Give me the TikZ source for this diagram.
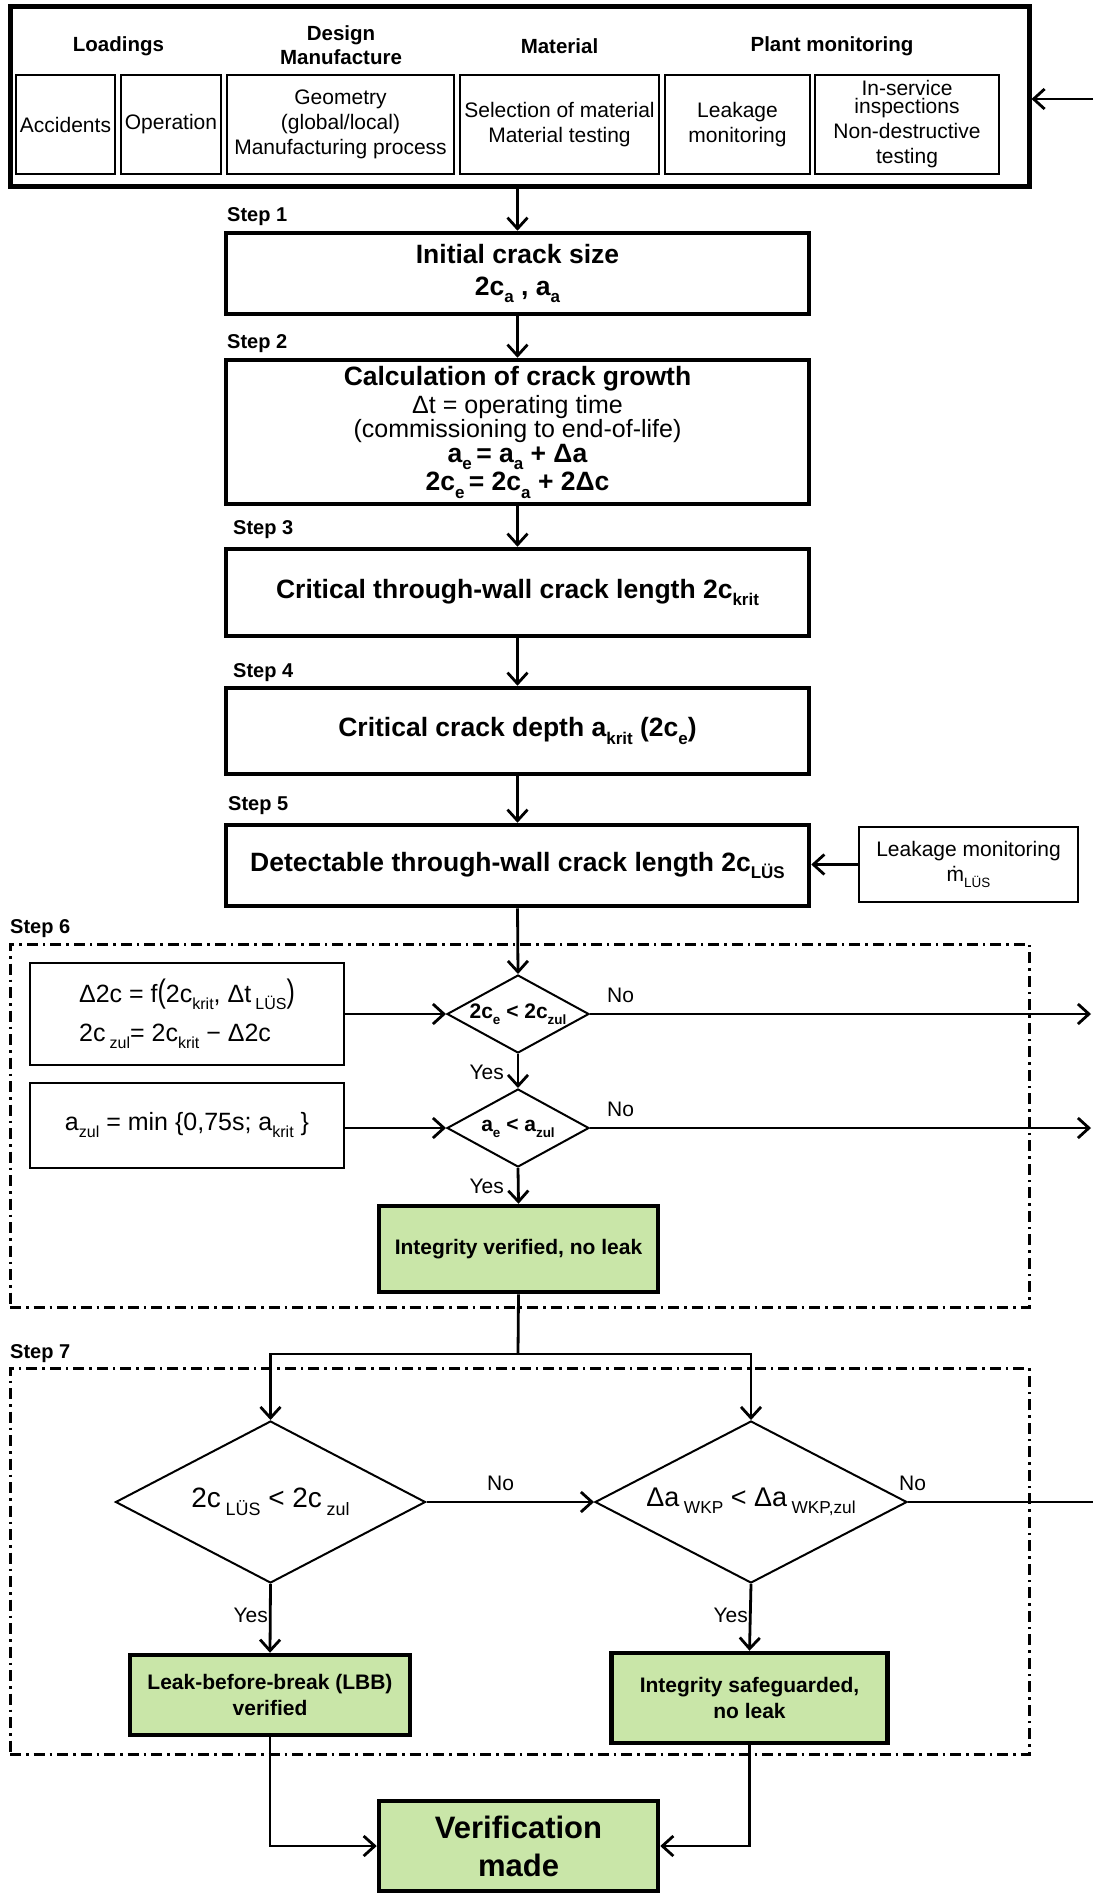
\documentclass[tikz,border=0pt]{standalone}
\usepackage{fontspec}
\setmainfont{Liberation Sans}
\usepackage{graphicx}
\usetikzlibrary{shapes.geometric,arrows.meta}
\definecolor{okgreen}{RGB}{201,230,168}
% lowered, smaller index text
\newcommand\dn[1]{\raisebox{-0.28em}{\scalebox{0.64}{#1}}}
\newcommand\fs[2]{\fontsize{#1}{#2}\selectfont}
% m with a dot above (mass flow)
\newcommand\mdot{\ooalign{m\cr\hidewidth\char"02D9\hidewidth\cr}}
\newcommand\tallparen[1]{\scalebox{1}[1.3]{#1}}

\tikzset{
  stepbox/.style={draw, line width=4.5pt, minimum width=583pt, inner sep=0pt, align=center, font=\bfseries\fs{26.5}{26}},
  inbox/.style={draw, line width=2pt, minimum height=99pt, inner sep=0pt, align=center, font=\fs{21}{25}},
  smallbox/.style={draw, line width=2pt, inner sep=0pt, align=center, font=\fs{21}{25}},
  okbox/.style={draw, line width=4.5pt, fill=okgreen, inner sep=0pt, align=center, font=\bfseries\fs{21}{26}},
  decide/.style={draw, diamond, line width=2pt, inner sep=0pt, aspect=1.75},
  head/.style={inner sep=0pt, align=center, font=\bfseries\fs{20.5}{24}},
  steplabel/.style={anchor=west, inner sep=0pt, font=\bfseries\fs{20}{24}},
  answer/.style={inner sep=0pt, font=\fs{21}{24}},
  flow/.style={line width=2.8pt, -{Straight Barb[length=11pt,width=20pt]}},
  link/.style={line width=2.8pt},
  zone/.style={draw, line width=3pt, dash pattern=on 11pt off 5pt on 2.5pt off 5pt, inner sep=0pt},
}

\begin{document}
\begin{tikzpicture}[x=1pt,y=-1pt]
\useasboundingbox (0,0) rectangle (1093,1894);

% ---- input data block ----
\node[draw, line width=5pt, minimum width=1019pt, minimum height=180pt, inner sep=0pt] (inputs) at (519.5,97) {};
\node[head] (hLoad) at (118.5,46) {Loadings};
\node[head] (hDesign) at (341,45) {Design\\Manufacture};
\node[head] (hMat) at (559.5,46) {Material};
\node[head] (hPlant) at (832,46) {Plant monitoring};
\node[inbox, minimum width=99pt] (acc) at (65.5,124.5) {Accidents};
\node[inbox, minimum width=100pt] (opr) at (171,124.5) {Operation};
\node[inbox, minimum width=227pt] (geo) at (340.5,124.5) {Geometry\\(global/local)\\Manufacturing process};
\node[inbox, minimum width=199pt] (mat) at (559.5,124.5) {Selection of material\\Material testing};
\node[inbox, minimum width=145pt] (lkm) at (737.5,124.5) {Leakage\\monitoring};
\node[inbox, minimum width=184pt] (isi) at (907,124.5) {In-service\\[-7pt]inspections\\Non-destructive\\testing};

% ---- steps 1 to 5 ----
\node[steplabel] (l1) at (227,217) {Step 1};
\node[stepbox, minimum height=81pt] (s1) at (517.5,273.5) {Initial crack size\\[6pt]2c\dn{a} , a\dn{a}};
\node[steplabel] (l2) at (227,344) {Step 2};
\node[stepbox, minimum height=144pt] (s2) at (517.5,432) {Calculation of crack growth\\[2pt]{\mdseries\fs{25}{24}Δt = operating time}\\[-2pt]{\mdseries\fs{25}{24}(commissioning to end-of-life)}\\[-1pt]a\dn{e}\,= a\dn{a} + Δa\\[1.5pt]2c\dn{e}\,= 2c\dn{a} + 2Δc};
\node[steplabel] (l3) at (233,530) {Step 3};
\node[stepbox, minimum height=87pt] (s3) at (517.5,592.5) {Critical through-wall crack length 2c\dn{krit}};
\node[steplabel] (l4) at (233,673) {Step 4};
\node[stepbox, minimum height=86pt] (s4) at (517.5,731) {Critical crack depth a\dn{krit} (2c\dn{e})};
\node[steplabel] (l5) at (228,806) {Step 5};
\node[stepbox, minimum height=81pt] (s5) at (517.5,865.5) {Detectable through-wall crack length 2c\dn{LÜS}};
\node[smallbox, minimum width=219pt, minimum height=75pt] (leak) at (968.5,864.5) {Leakage monitoring\\\mdot\dn{LÜS}};

% ---- step 6 ----
\node[steplabel] (l6) at (10,929) {Step 6};
\node[zone, minimum width=1019pt, minimum height=363pt] (zone6) at (519.5,1125.5) {};
\node[smallbox, minimum width=314pt, minimum height=102pt, align=left, font=\fs{25}{39}] (f1) at (187,1013.5)
  {Δ2c = f\tallparen{(}2c\dn{krit}, Δt\,\dn{LÜS}\tallparen{)}\\2c\,\dn{zul}= 2c\dn{krit} − Δ2c};
\node[smallbox, minimum width=314pt, minimum height=85pt, font=\fs{25}{30}] (f2) at (187,1125.5)
  {a\dn{zul} = min \{0,75s; a\dn{krit} \}};
\node[decide, minimum width=142pt, minimum height=78pt] (d1) at (518,1014)
  {\makebox[0pt]{\bfseries\fs{21}{22}2c\dn{e} < 2c\dn{zul}}};
\node[decide, minimum width=142pt, minimum height=78pt] (d2) at (518,1128)
  {\makebox[0pt]{\bfseries\fs{21}{22}a\dn{e} < a\dn{zul}}};
\node[okbox, minimum width=279pt, minimum height=86pt] (g1) at (518.5,1249) {Integrity verified, no leak};
\node[answer, anchor=west] (no1) at (607,995) {No};
\node[answer, anchor=east] (yes1) at (504,1072) {Yes};
\node[answer, anchor=west] (no2) at (607,1109) {No};
\node[answer, anchor=east] (yes2) at (504,1186) {Yes};

% ---- step 7 ----
\node[steplabel] (l7) at (10,1354) {Step 7};
\node[zone, minimum width=1019pt, minimum height=386pt] (zone7) at (519.5,1561) {};
\node[decide, minimum width=310pt, minimum height=162pt] (d3) at (270.5,1502)
  {\makebox[0pt]{\fs{28}{30}2c\,\dn{LÜS}\;<\;2c\,\dn{zul}}};
\node[decide, minimum width=312pt, minimum height=162pt] (d4) at (751,1502)
  {\makebox[0pt]{\fs{27}{30}Δa\,\dn{WKP}\;<\;Δa\,\dn{WKP,zul}}};
\node[okbox, minimum width=280pt, minimum height=80pt] (lbb) at (270,1695) {Leak-before-break (LBB)\\verified};
\node[okbox, minimum width=276pt, minimum height=90pt] (isg) at (749.5,1698) {Integrity safeguarded,\\no leak};
\node[okbox, minimum width=279pt, minimum height=90pt, font=\bfseries\fs{31}{38}] (ver) at (518.5,1846) {Verification\\made};
\node[answer, anchor=west] (no3) at (487,1483) {No};
\node[answer, anchor=west] (no4) at (899,1483) {No};
\node[answer, anchor=east] (yes3) at (268,1615) {Yes};
\node[answer, anchor=east] (yes4) at (748,1615) {Yes};

% ---- connectors ----
\coordinate (inR) at (1093,99);
\coordinate (rim) at (1091,0);
\coordinate (edge) at (1093,0);
\coordinate (split) at (518,1354);
\draw[flow] (inR) -- (inR -| inputs.east);
\draw[flow] (s1.north |- inputs.south) -- (s1.north);
\draw[flow] (s1.south) -- (s2.north);
\draw[flow] (s2.south) -- (s3.north);
\draw[flow] (s3.south) -- (s4.north);
\draw[flow] (s4.south) -- (s5.north);
\draw[flow] (leak.west) -- (s5.east |- leak.west);
\draw[flow] (s5.south) -- (d1.north);
\draw[flow] (f1.east |- d1.west) -- (d1.west);
\draw[flow] (f2.east |- d2.west) -- (d2.west);
\draw[flow] (d1.east) -- (d1.east -| rim);
\draw[flow] (d2.east) -- (d2.east -| rim);
\draw[flow] (d1.south) -- (d2.north);
\draw[flow] (d2.south) -- (g1.north);
\draw[link] (g1.south) -- (split);
\draw[flow] (split) -| (d3.north);
\draw[flow] (split) -| (d4.north);
\draw[flow] (d3.east) -- (d4.west);
\draw[link] (d4.east) -- (d4.east -| edge);
\draw[flow] (d3.south) -- (lbb.north);
\draw[flow] (d4.south) -- (isg.north);
\draw[flow] (lbb.south) |- (ver.west);
\draw[flow] (isg.south) |- (ver.east);
\end{tikzpicture}
\end{document}
